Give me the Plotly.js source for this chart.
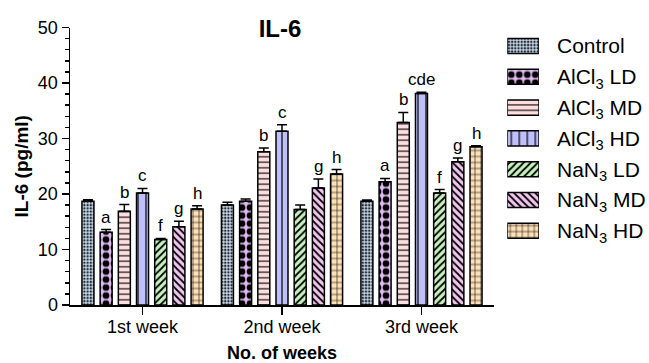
<!DOCTYPE html>
<html>
<head>
<meta charset="utf-8">
<script src="https://cdn.plot.ly/plotly-3.0.1.min.js"></script>
<style>html,body{margin:0;padding:0;background:#fff;}#chart{width:649px;height:363px;}</style>
</head>
<body>
<div id="chart"></div>
<script>
// ---- data ----
const weeks = ['1st week', '2nd week', '3rd week'];
const seriesNames = ['Control', 'AlCl<sub>3</sub> LD', 'AlCl<sub>3</sub> MD', 'AlCl<sub>3</sub> HD',
                     'NaN<sub>3</sub> LD', 'NaN<sub>3</sub> MD', 'NaN<sub>3</sub> HD'];
const control = [18.7, 18.0, 18.7];
const alcl3LD = [13.1, 18.7, 22.2];
const alcl3MD = [16.9, 27.6, 32.9];
const alcl3HD = [20.2, 31.3, 38.1];
const nan3LD  = [11.8, 17.2, 20.2];
const nan3MD  = [14.1, 21.1, 25.8];
const nan3HD  = [17.3, 23.6, 28.5];
const controlErr = [0.25, 0.5, 0.2];
const alcl3LDErr = [0.5, 0.4, 0.6];
const alcl3MDErr = [1.2, 0.7, 1.8];
const alcl3HDErr = [0.8, 1.2, 0.25];
const nan3LDErr  = [0.2, 0.8, 0.6];
const nan3MDErr  = [1.0, 1.6, 0.7];
const nan3HDErr  = [0.6, 0.8, 0.2];
const controlSig = ['', '', ''];
const alcl3LDSig = ['a', '', 'a'];
const alcl3MDSig = ['b', 'b', 'b'];
const alcl3HDSig = ['c', 'c', 'cde'];
const nan3LDSig  = ['f', '', 'f'];
const nan3MDSig  = ['g', 'g', 'g'];
const nan3HDSig  = ['h', 'h', 'h'];
const yTitle = '<b>IL-6 (pg/ml)</b>';
const xTitle = '<b>No. of weeks</b>';
const chartTitle = '<b>IL-6</b>';

// ---- styling ----
const FONT = '"Liberation Sans", Arial, sans-serif';
const values = [control, alcl3LD, alcl3MD, alcl3HD, nan3LD, nan3MD, nan3HD];
const errs = [controlErr, alcl3LDErr, alcl3MDErr, alcl3HDErr, nan3LDErr, nan3MDErr, nan3HDErr];
const sigs = [controlSig, alcl3LDSig, alcl3MDSig, alcl3HDSig, nan3LDSig, nan3MDSig, nan3HDSig];
const patterns = [
  {shape: '.', bgcolor: '#c2d8ee', fgcolor: '#2a2a2a', size: 3.2, solidity: 0.45},
  {shape: '.', bgcolor: '#e2b8f2', fgcolor: '#000000', size: 8, solidity: 0.55},
  {shape: '-', bgcolor: '#fcdede', fgcolor: '#000000', size: 5.5, solidity: 0.2},
  {shape: '|', bgcolor: '#c0c0f8', fgcolor: '#000000', size: 8, solidity: 0.15},
  {shape: '/', bgcolor: '#c8f0c0', fgcolor: '#000000', size: 5, solidity: 0.35},
  {shape: '\\', bgcolor: '#f2c6ee', fgcolor: '#000000', size: 5, solidity: 0.35},
  {shape: '+', bgcolor: '#fde0b8', fgcolor: '#000000', size: 6, solidity: 0.18}
];
const BARGAP = 0.087, BARGROUPGAP = 0.34;
const nS = seriesNames.length;
const slot = (1 - BARGAP) / nS;

const traces = [];
const annotations = [];
values.forEach((vals, i) => {
  traces.push({
    type: 'bar', x: weeks, y: vals, name: seriesNames[i], showlegend: false,
    marker: {color: patterns[i].bgcolor, line: {color: '#000', width: 1.5},
             pattern: Object.assign({fillmode: 'replace'}, patterns[i])},
    error_y: {type: 'data', symmetric: false, array: errs[i], arrayminus: vals.map(() => 0),
              color: '#000', thickness: 1.5, width: 5},
    hoverinfo: 'skip'
  });
  vals.forEach((v, k) => {
    if (sigs[i][k]) {
      annotations.push({
        xref: 'x', yref: 'y', x: k + (i - (nS - 1) / 2) * slot, y: v + errs[i][k],
        text: sigs[i][k], showarrow: false, xanchor: 'center', yanchor: 'bottom', yshift: 1,
        font: {family: FONT, size: 17, color: '#000'}
      });
    }
  });
  // legend swatch drawn on its own small axis
  traces.push({
    type: 'bar', orientation: 'h', y: [seriesNames[i]], x: [1], xaxis: 'x2', yaxis: 'y2',
    width: 0.49, offset: -0.245, showlegend: false, hoverinfo: 'skip',
    marker: {color: patterns[i].bgcolor, line: {color: '#000', width: 1.5},
             pattern: Object.assign({fillmode: 'replace'}, patterns[i])}
  });
});

const layout = {
  width: 649, height: 363,
  margin: {l: 70, r: 10, t: 10, b: 58},
  paper_bgcolor: '#fff', plot_bgcolor: 'rgba(0,0,0,0)',
  font: {family: FONT, color: '#000'},
  barmode: 'group', bargap: BARGAP, bargroupgap: BARGROUPGAP,
  showlegend: false,
  title: {text: chartTitle, font: {family: FONT, size: 24, color: '#000'},
          xref: 'container', yref: 'container', x: 280 / 649, y: 1 - 29 / 363,
          xanchor: 'center', yanchor: 'middle'},
  xaxis: {
    type: 'category', domain: [0, 424 / 569], range: [-0.52, 2.52],
    showline: true, linewidth: 1.5, linecolor: '#000', mirror: false,
    ticks: 'outside', ticklen: 8, tickwidth: 1.5, tickcolor: '#000', ticklabelstandoff: -3,
    tickfont: {family: FONT, size: 18, color: '#000'},
    showgrid: false, zeroline: false, fixedrange: true,
    title: {text: xTitle, font: {family: FONT, size: 18, color: '#000'}, standoff: 12}
  },
  yaxis: {
    domain: [0, (305 - 27.5) / 295], range: [0, 50], dtick: 10, tick0: 0,
    showline: true, linewidth: 1.5, linecolor: '#000',
    ticks: 'outside', ticklen: 7, tickwidth: 1.5, tickcolor: '#000',
    minor: {dtick: 2, ticks: 'outside', ticklen: 4, tickwidth: 1.5, tickcolor: '#000', showgrid: false},
    tickfont: {family: FONT, size: 18, color: '#000'},
    showgrid: false, zeroline: false, fixedrange: true,
    title: {text: yTitle, font: {family: FONT, size: 19, color: '#000'}, standoff: 4}
  },
  xaxis2: {
    domain: [(507.3 - 70) / 569, (539 - 70) / 569], anchor: 'y2', range: [0, 1],
    visible: false, fixedrange: true
  },
  yaxis2: {
    domain: [(305 - 246.2) / 295, (305 - 30.6) / 295], anchor: 'x2', side: 'right',
    type: 'category', categoryorder: 'array', categoryarray: seriesNames, range: [6.5, -0.5],
    showline: false, showgrid: false, zeroline: false, ticks: '', ticklabelstandoff: 17,
    tickfont: {family: FONT, size: 21, color: '#000'}, fixedrange: true
  },
  annotations: annotations
};

Plotly.newPlot('chart', traces, layout, {displayModeBar: false, staticPlot: true});
</script>
</body>
</html>
